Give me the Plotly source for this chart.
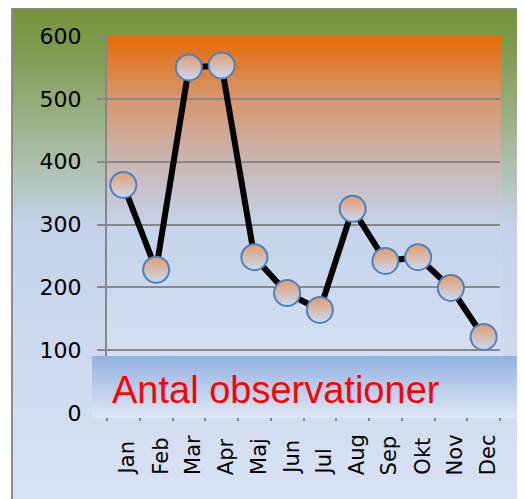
import base64, struct, zlib
import plotly.graph_objects as go

months = ["Jan", "Feb", "Mar", "Apr", "Maj", "Jun", "Jul", "Aug", "Sep", "Okt", "Nov", "Dec"]
observations = [363, 228, 550, 553, 248, 191, 164, 325, 242, 248, 199, 121]
y_ticks = [0, 100, 200, 300, 400, 500, 600]
title_text = "Antal observationer"

OFF = 8  # page body margin
W, H = 525 - OFF, 499 - OFF
L, R, T, B = 107 - OFF, 500 - OFF, 36 - OFF, 413 - OFF  # plot area in figure pixels


def px(x):  # screen x -> paper
    return (x - OFF - L) / (R - L)


def py(y):  # screen y -> paper
    return (B - (y - OFF)) / (B - T)


def grad_png(stops, h=300):
    rows = b""
    for i in range(h):
        t = i / (h - 1)
        for k in range(len(stops) - 1):
            p0, c0 = stops[k]
            p1, c1 = stops[k + 1]
            if p0 <= t <= p1:
                f = (t - p0) / (p1 - p0) if p1 > p0 else 0
                c = [round(c0[j] + (c1[j] - c0[j]) * f) for j in range(3)]
                break
        rows += b"\x00" + bytes(c) * 4
    def chunk(tag, data):
        return struct.pack(">I", len(data)) + tag + data + struct.pack(">I", zlib.crc32(tag + data) & 0xffffffff)
    png = b"\x89PNG\r\n\x1a\n" + chunk(b"IHDR", struct.pack(">IIBBBBB", 4, h, 8, 2, 0, 0, 0))
    png += chunk(b"IDAT", zlib.compress(rows)) + chunk(b"IEND", b"")
    return "data:image/png;base64," + base64.b64encode(png).decode()


outer_bg = grad_png([(0, (119, 147, 60)), (0.06, (124, 152, 72)), (0.18, (146, 171, 118)),
                     (0.31, (172, 192, 172)), (0.44, (196, 211, 234)), (1, (216, 226, 243))])
plot_bg = grad_png([(0, (228, 108, 10)), (0.19, (215, 150, 108)), (0.39, (202, 182, 178)),
                    (0.6, (197, 212, 236)), (1, (212, 223, 241))])
box_bg = grad_png([(0, (148, 177, 225)), (1, (222, 231, 246))])

fig = go.Figure()
fig.add_trace(go.Scatter(
    x=months, y=observations, mode="lines+markers",
    line=dict(color="black", width=6),
    marker=dict(size=26, color="rgb(226,156,110)",
                gradient=dict(type="vertical", color="rgb(202,218,243)"),
                line=dict(color="#4f81bd", width=2)),
    showlegend=False, cliponaxis=False,
))

images = [
    dict(source=outer_bg, xref="paper", yref="paper", x=px(12), y=py(8),
         sizex=px(530) - px(12), sizey=py(8) - py(505), sizing="stretch",
         xanchor="left", yanchor="top", layer="below"),
    dict(source=plot_bg, xref="paper", yref="paper", x=px(106), y=py(36),
         sizex=px(501) - px(106), sizey=py(36) - py(356), sizing="stretch",
         xanchor="left", yanchor="top", layer="below"),
    dict(source=box_bg, xref="paper", yref="paper", x=px(92), y=py(356),
         sizex=px(522) - px(92), sizey=py(356) - py(418), sizing="stretch",
         xanchor="left", yanchor="top", layer="above"),
]

annotations = [dict(text=m, x=m, xref="x", y=py(477), yref="paper", yanchor="bottom",
                    xanchor="center", xshift=4, textangle=-90, showarrow=False,
                    font=dict(family="DejaVu Sans", size=21, color="black"))
               for m in months]
annotations.append(dict(text=title_text, x=px(110), y=py(390), xref="paper", yref="paper",
                        xanchor="left", yanchor="middle", showarrow=False,
                        font=dict(family="Liberation Sans", size=38, color="#ff0000")))

fig.update_layout(
    width=W, height=H,
    margin=dict(l=L, r=W - R, t=T, b=H - B),
    paper_bgcolor="white", plot_bgcolor="rgba(0,0,0,0)",
    images=images, annotations=annotations,
    shapes=[dict(type="rect", xref="paper", yref="paper", x0=px(12), y0=py(8),
                 x1=px(540), y1=py(515), line=dict(color="#8c8c8c", width=2),
                 fillcolor="rgba(0,0,0,0)", layer="below")],
    xaxis=dict(type="category", range=[-0.5, 11.5], showticklabels=False, ticks="outside",
               tickson="boundaries", ticklen=7, tickcolor="#888888", tickwidth=2,
               showgrid=False, showline=False, zeroline=False, fixedrange=True),
    yaxis=dict(range=[0, 600], tickvals=y_ticks, ticks="outside", ticklen=8,
               tickcolor="#888888", tickwidth=2, gridcolor="#888888", gridwidth=2,
               showline=True, linecolor="#888888", linewidth=2, zeroline=False,
               ticklabelstandoff=11,
               tickfont=dict(family="DejaVu Sans", size=22, color="black")),
)

fig.write_html("out.html")
